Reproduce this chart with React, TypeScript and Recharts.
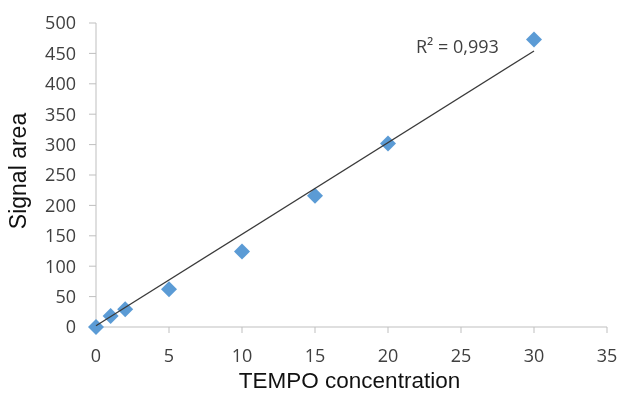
import React from 'react';
import { ScatterChart, Scatter, XAxis, YAxis } from 'recharts';

const concentrations = [0, 1, 2, 5, 10, 15, 20, 30];
const signalAreas = [0, 18, 29, 62, 124, 216, 302, 473];
const trendX = [0, 30];
const trendY = [2, 454];
const xTicks = [0, 5, 10, 15, 20, 25, 30, 35];
const yTicks = [0, 50, 100, 150, 200, 250, 300, 350, 400, 450, 500];
const xTitle = 'TEMPO concentration';
const yTitle = 'Signal area';
const r2Text = 'R² = 0,993';

const points = concentrations.map((x, i) => ({ x, y: signalAreas[i] }));
const trend = trendX.map((x, i) => ({ x, y: trendY[i] }));

const Diamond = (props: any) => {
  const { cx, cy } = props;
  const h = 8;
  return (
    <path
      d={`M${cx},${cy - h} L${cx + h},${cy} L${cx},${cy + h} L${cx - h},${cy} Z`}
      fill="#5b9bd5"
    />
  );
};

const tickStyle = { fontSize: 18, fill: '#404040', fontFamily: 'Open Sans' };

export default function App() {
  return (
    <div style={{ position: 'fixed', left: 0, top: 0, width: 619, height: 393 }}>
      <ScatterChart
        width={619}
        height={393}
        margin={{ top: 23, right: 12, bottom: 0, left: 0 }}
        style={{ overflow: 'visible' }}
      >
        <XAxis
          type="number"
          dataKey="x"
          domain={[0, 35]}
          ticks={xTicks}
          interval={0}
          stroke="#bfbfbf"
          tickSize={6}
          tickMargin={16}
          tick={tickStyle}
          height={66}
          label={{
            content: (p: any) => {
              const vb = p.viewBox;
              return (
                <text
                  x={vb.x + vb.width / 2 - 2}
                  y={388}
                  textAnchor="middle"
                  fontFamily="Liberation Sans"
                  fontSize={22.5}
                  fill="#111"
                >
                  {xTitle}
                </text>
              );
            },
          }}
        />
        <YAxis
          type="number"
          dataKey="y"
          domain={[0, 500]}
          ticks={yTicks}
          interval={0}
          stroke="#bfbfbf"
          tickSize={7}
          tickMargin={13}
          tick={tickStyle}
          width={96}
          label={{
            content: (p: any) => {
              const vb = p.viewBox;
              const x = 26;
              const y = vb.y + vb.height / 2 - 4;
              return (
                <text
                  x={x}
                  y={y}
                  transform={`rotate(-90, ${x}, ${y})`}
                  textAnchor="middle"
                  fontFamily="Liberation Sans"
                  fontSize={23}
                  fill="#111"
                >
                  {yTitle}
                </text>
              );
            },
          }}
        />
        <Scatter data={points} shape={Diamond} isAnimationActive={false} />
        <Scatter
          data={trend}
          line={{ stroke: '#3a3a3a', strokeWidth: 1.3 }}
          shape={() => <g />}
          isAnimationActive={false}
        />
        <text x={416} y={53} fontFamily="Open Sans" fontSize={18} fill="#404040">
          {r2Text}
        </text>
      </ScatterChart>
    </div>
  );
}
